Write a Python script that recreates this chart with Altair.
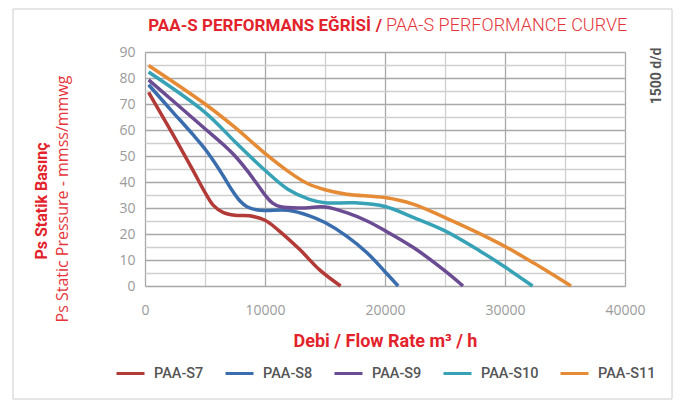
import altair as alt
import pandas as pd

# ---- data ----
series_names = ["PAA-S7", "PAA-S8", "PAA-S9", "PAA-S10", "PAA-S11"]
series_colors = ["#B23A37", "#3A6DAD", "#6B4C93", "#37A2B6", "#E58A35"]

s7_flow = [300, 2300, 4000, 5000, 5700, 6500, 7500, 8700, 10000, 11100, 12900, 14600, 16300]
s7_ps = [74.5, 58.5, 44.5, 36, 31, 28.3, 27.2, 27, 25.3, 21.5, 14, 6, 0]

s8_flow = [300, 2300, 4000, 5000, 5800, 6500, 7300, 7900, 8500, 9300, 10000, 11900, 13700, 15000, 16800, 18500, 20000, 21100]
s8_ps = [77.4, 67, 58.2, 52.7, 47.5, 42.5, 36.5, 32.8, 30.5, 29.3, 29, 29.1, 27, 24.4, 19.2, 12.8, 5.5, 0]

s9_flow = [300, 5000, 6500, 7500, 8500, 9300, 10000, 10600, 11300, 13000, 15000, 16800, 18500, 20000, 22400, 25000, 26500]
s9_ps = [79.3, 60.5, 54.5, 50, 44.5, 39.5, 35, 32, 30.5, 30, 30.4, 28.2, 25, 21.3, 14.7, 5.8, 0]

s10_flow = [300, 5000, 7500, 10000, 11900, 13700, 15000, 17400, 20000, 22400, 25000, 27900, 30000, 32300]
s10_ps = [82.3, 66.8, 55.5, 44.5, 37.2, 33.3, 32, 32, 30.6, 26.3, 21.2, 13.5, 7.3, 0]

s11_flow = [300, 5000, 7500, 10000, 11900, 13500, 15000, 16800, 20000, 22400, 25000, 27500, 30000, 32400, 35500]
s11_ps = [84.8, 70, 61, 51, 44.2, 39.5, 37, 35.3, 34, 31.4, 26.3, 21, 15.2, 8.8, 0]

x_ticks = [0, 5000, 10000, 15000, 20000, 25000, 30000, 35000, 40000]
y_ticks = list(range(0, 95, 5))

title_bold = "PAA-S PERFORMANS EĞRİSİ"
title_light = "PAA-S PERFORMANCE CURVE"
ytitle_bold = "Ps Statik Basınç"
ytitle_light = "Ps Static Pressure - mmss/mmwg"
xtitle = "Debi / Flow Rate m³ / h"
side_note = "1500 d/d"

RED = "#E3232B"

rows = []
for name, fx, py in zip(series_names,
                        [s7_flow, s8_flow, s9_flow, s10_flow, s11_flow],
                        [s7_ps, s8_ps, s9_ps, s10_ps, s11_ps]):
    for i, (a, b) in enumerate(zip(fx, py)):
        rows.append({"series": name, "flow": a, "ps": b, "order": i})
df = pd.DataFrame(rows)

W, H = 480, 234

lines = alt.Chart(df).mark_line(strokeWidth=3.5, interpolate="catmull-rom").encode(
    x=alt.X("flow:Q",
            scale=alt.Scale(domain=[0, 40000], nice=False),
            axis=alt.Axis(values=x_ticks, ticks=False, labelPadding=17,
                          labelExpr="datum.value % 10000 == 0 ? datum.value : ''",
                          labelFont="Open Sans", labelFontSize=14, labelColor="#9a9a9a",
                          labelFlush=False,
                          gridColor={"condition": {"test": "datum.value % 10000 == 0", "value": "#a8a8a8"},
                                     "value": "#cfcfcf"},
                          gridWidth=1.3, domain=False,
                          title=xtitle, titleFont="Roboto", titleFontSize=18, titleFontWeight="bold",
                          titleColor=RED, titlePadding=15)),
    y=alt.Y("ps:Q",
            scale=alt.Scale(domain=[0, 90], nice=False),
            axis=alt.Axis(values=y_ticks, ticks=False, labelPadding=10,
                          labelExpr="datum.value % 10 == 0 ? datum.value : ''",
                          labelFont="Open Sans", labelFontSize=14, labelColor="#9a9a9a",
                          gridColor={"condition": {"test": "datum.value % 10 == 0", "value": "#a8a8a8"},
                                     "value": "#cfcfcf"},
                          gridWidth=1.3, domain=False, title=None)),
    color=alt.Color("series:N", sort=series_names,
                    scale=alt.Scale(domain=series_names, range=series_colors),
                    legend=alt.Legend(orient="none", legendX=-30, legendY=306, direction="horizontal",
                                      columns=5, title=None, symbolType="stroke", symbolStrokeWidth=3,
                                      symbolSize=784, labelFont="Roboto", labelFontSize=14.5,
                                      labelFontWeight=500, labelColor="#555555",
                                      labelOffset=8, columnPadding=15)),
    order="order:Q",
)

def txt(s, x, y, **kw):
    return alt.Chart(pd.DataFrame({"t": [s]})).mark_text(**kw).encode(
        text="t:N", x=alt.value(x), y=alt.value(y))

t1 = txt(title_bold, 226, -26, align="right", baseline="middle", font="Roboto",
         fontSize=17, fontWeight="bold", color=RED)
t2 = txt("/", 234, -26, align="center", baseline="middle", font="Roboto",
         fontSize=17, fontWeight="bold", color=RED)
t3 = txt(title_light, 241, -26, align="left", baseline="middle", font="Roboto",
         fontSize=18, fontWeight=300, color="#E5353B")
ty1 = txt(ytitle_bold, -103, 149, angle=270, align="center", baseline="middle", font="Roboto",
          fontSize=16, fontWeight="bold", color=RED)
ty2 = txt(ytitle_light, -82, 147, angle=270, align="center", baseline="middle", font="Open Sans",
          fontSize=16, fontWeight="normal", color="#E5353B")
tside = txt(side_note, 512, 24, angle=270, align="center", baseline="middle", font="Roboto",
            fontSize=14, fontWeight="bold", color="#555555")

border = alt.Chart(pd.DataFrame({"a": [0]})).mark_rect(fillOpacity=0, stroke="#cccccc", strokeWidth=1).encode(
    x=alt.value(-132), x2=alt.value(527), y=alt.value(-43), y2=alt.value(347))

chart = alt.layer(border, lines, t1, t2, t3, ty1, ty2, tside).properties(
    width=W, height=H,
    autosize=alt.AutoSizeParams(type="none"),
    padding={"left": 137, "top": 44, "right": 48, "bottom": 114},
).configure_view(stroke="#8c8c8c", strokeWidth=1.3).configure(background="white")

chart.save("out.html", embed_options={"renderer": "svg", "actions": False})
